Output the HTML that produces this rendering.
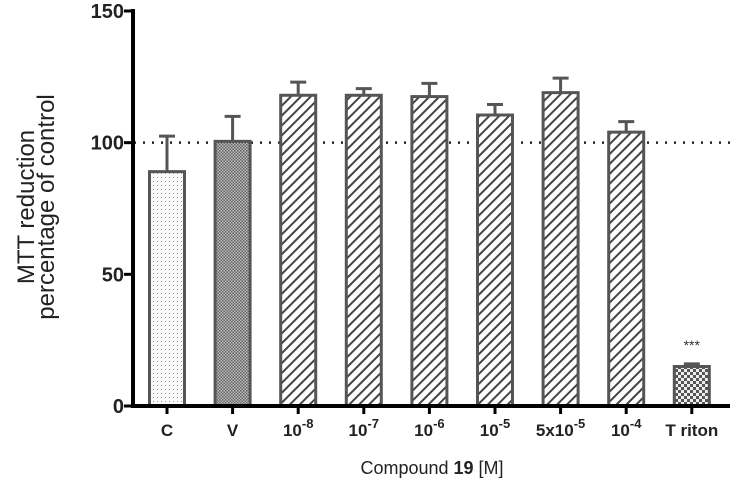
<!DOCTYPE html>
<html><head><meta charset="utf-8"><style>
body{margin:0;background:#fff;}
svg{display:block;font-family:"Liberation Sans",Arial,sans-serif;}
</style></head><body>
<svg id="chart" width="732" height="485">
<defs>
<pattern id="dots" width="4" height="4" patternUnits="userSpaceOnUse"><rect width="4" height="4" fill="#fafafa"/><rect x="1" y="1" width="1" height="1" fill="#999"/></pattern>
<pattern id="fine" width="3" height="3" patternUnits="userSpaceOnUse"><rect width="3" height="3" fill="#bbb"/><rect x="0" y="0" width="1.5" height="1.5" fill="#666"/><rect x="1.5" y="1.5" width="1.5" height="1.5" fill="#666"/></pattern>
<pattern id="hatch" width="7" height="7" patternUnits="userSpaceOnUse" patternTransform="rotate(45)"><rect width="7" height="7" fill="#fff"/><rect x="0" y="0" width="2" height="7" fill="#444"/></pattern>
<pattern id="check" width="6" height="6" patternUnits="userSpaceOnUse"><rect width="6" height="6" fill="#eee"/><rect width="3" height="3" fill="#555"/><rect x="3" y="3" width="3" height="3" fill="#555"/></pattern>
</defs>
<g id="plot"></g>
</svg>
<script>
const categories=["C","V","10^-8","10^-7","10^-6","10^-5","5x10^-5","10^-4","Triton"];
const means=[89,100.5,118,118,117.5,110.5,119,104,15];
const errors=[13.5,9.5,5,2.5,5,4,5.5,4,1];
const fills=["dots","fine","hatch","hatch","hatch","hatch","hatch","hatch","check"];
const yTicks=[0,50,100,150];
const NS="http://www.w3.org/2000/svg";
const g=document.getElementById('plot');
const x0=167,step=65.6,bw=35;
const y=v=>406-v*395/150;
const xc=i=>x0+i*step;
function el(t,a,p){const e=document.createElementNS(NS,t);for(const k in a)e.setAttribute(k,a[k]);(p||g).appendChild(e);return e;}
let ref=el('line',{x1:134,x2:730,y1:y(100),y2:y(100),stroke:'#222','stroke-width':2.5,'stroke-dasharray':'2 7'});


categories.forEach((c,i)=>{
  const cx=xc(i);
  let eb=el('path',{d:`M${cx} ${y(means[i])}V${y(means[i]+errors[i])}M${cx-8} ${y(means[i]+errors[i])}H${cx+8}`,stroke:'#555','stroke-width':3,fill:'none'});
  
  
  let b=el('rect',{x:cx-bw/2,y:y(means[i]),width:bw,height:y(0)-y(means[i]),fill:`url(#${fills[i]})`,stroke:'#555','stroke-width':3});
  
  
  let tk=el('line',{x1:cx,x2:cx,y1:406,y2:414,stroke:'#000','stroke-width':3});
  
  
  let t=el('text',{x:cx,y:436,'text-anchor':'middle','font-size':17,'font-weight':'bold',fill:'#222'});
  const m=c.match(/^(.*)10\^(-?\d+)$/);
  if(m){t.textContent=m[1]+'10';const s=document.createElementNS(NS,'tspan');s.setAttribute('dy',-8);s.setAttribute('font-size',13);s.textContent=m[2];t.appendChild(s);}
  else t.textContent=c==='Triton'?'T riton':c;
  
  
});
let st=el('text',{x:xc(8),y:y(means[8]+errors[8])-14,'text-anchor':'middle','font-size':14,fill:'#333'});
st.textContent='***';


yTicks.forEach(v=>{
  let tk=el('line',{x1:124,x2:133,y1:y(v),y2:y(v),stroke:'#000','stroke-width':3});
  
  
  let t=el('text',{x:124,y:y(v)+7,'text-anchor':'end','font-size':20,'font-weight':'bold',fill:'#222'});
  t.textContent=v;
  
  
});
let ya=el('line',{x1:133,x2:133,y1:9,y2:408,stroke:'#000','stroke-width':4});


let xa=el('line',{x1:131,x2:730,y1:406,y2:406,stroke:'#000','stroke-width':4});


let yt=el('text',{transform:'translate(34,207) rotate(-90)','text-anchor':'middle','font-size':24,fill:'#222'});
yt.innerHTML='<tspan x="0" dy="0">MTT reduction</tspan><tspan x="0" dy="20">percentage of control</tspan>';


let xt=el('text',{x:432,y:474,'text-anchor':'middle','font-size':18,fill:'#222'});
xt.innerHTML='Compound <tspan font-weight="bold">19</tspan> [M]';


</script>
</body></html>
